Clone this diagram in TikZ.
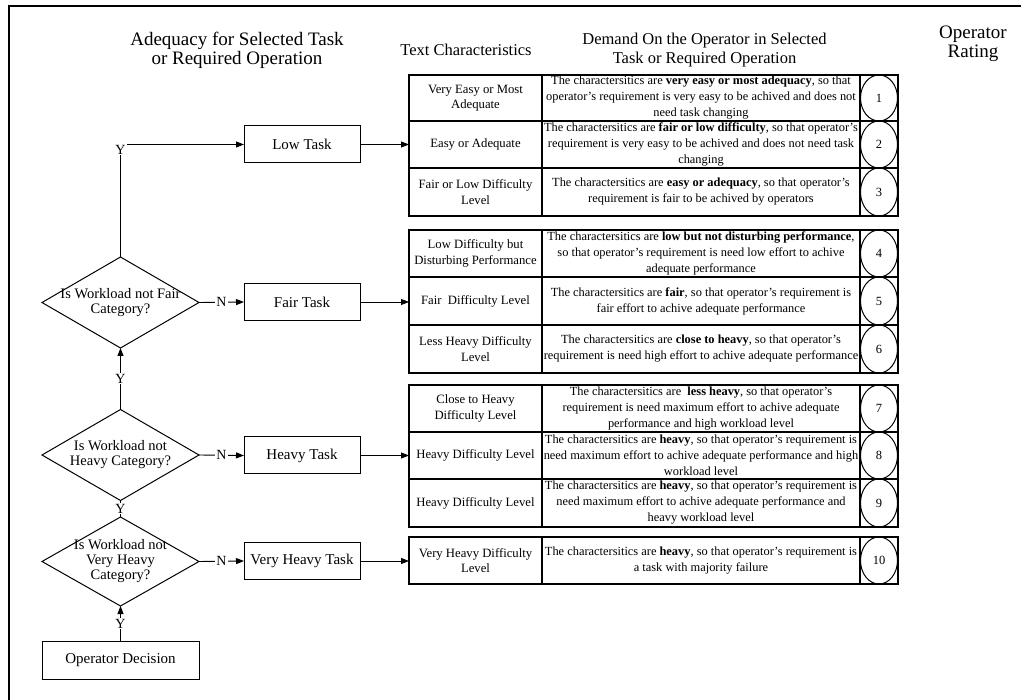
\documentclass[tikz,border=0pt]{standalone}
\usepackage{fontspec}
\setmainfont{Liberation Serif}
\usetikzlibrary{shapes.geometric,arrows.meta}
\begin{document}
\begin{tikzpicture}[x=1pt,y=-1pt,
  every node/.style={inner sep=0pt,outer sep=0pt},
  taskbox/.style={draw,line width=1pt,minimum width=116pt,minimum height=37pt,font=\fontsize{15}{17}\selectfont},
  dia/.style={draw,diamond,line width=1pt,minimum width=157pt,minimum height=91pt},
  diatext/.style={align=center,font=\fontsize{14.5}{15}\selectfont},
  conn/.style={line width=0.9pt,-{Triangle[length=8pt,width=6pt]}},
  plainline/.style={line width=0.9pt},
  lab/.style={fill=white,inner sep=1pt,font=\fontsize{14}{16}\selectfont},
  hdrbig/.style={align=center,font=\fontsize{19}{19.5}\selectfont},
  hdrsmall/.style={align=center,font=\fontsize{16.5}{19}\selectfont},
  ca/.style={draw,line width=1.4pt,align=center,minimum width=133pt,font=\fontsize{12.7}{15.5}\selectfont},
  cb/.style={draw,line width=1.4pt,align=center,minimum width=318pt,font=\fontsize{12.4}{16}\selectfont},
  cc/.style={draw,line width=1.4pt,minimum width=38pt},
  rate/.style={draw,ellipse,line width=1pt,minimum width=37pt,font=\fontsize{12.5}{14}\selectfont}
]
\useasboundingbox (0,0) rectangle (1021,700);
% frame
\draw[line width=2pt] (9,700) -- (9,6) -- (1021,6);

% headers
\node[hdrbig] (h1) at (237,50.5) {Adequacy for Selected Task\\or Required Operation};
\node[hdrsmall] (h2) at (466,50) {Text Characteristics};
\node[hdrsmall] (h3) at (704.5,50.5) {Demand On the Operator in Selected\\Task or Required Operation};
\node[hdrbig] (h4) at (973,44) {Operator\\Rating};

% flowchart
\node[taskbox] (low) at (302,144.5) {Low Task};
\node[taskbox] (fair) at (302,302) {Fair Task};
\node[taskbox] (heavy) at (302,455.5) {Heavy Task};
\node[taskbox] (vheavy) at (302,561) {Very Heavy Task};
\node[taskbox,minimum width=157pt,minimum height=38pt] (opd) at (120.5,660) {Operator Decision};

\node[dia] (d1) at (120.5,302.5) {};
\node[diatext] (d1t) at (d1) {Is Workload not Fair\\Category?};
\node[dia] (d2) at (120.5,455) {};
\node[diatext] (d2t) at (d2) {Is Workload not\\Heavy Category?};
\node[dia,minimum height=89pt] (d3) at (120.5,561.5) {};
\node[diatext] (d3t) at (d3) {Is Workload not\\Very Heavy\\Category?};

\draw[conn] (d1.north) |- node[lab,pos=0.5,yshift=-5pt] {Y} (low.west);
\draw[conn] (d1.east) -- node[lab] {N} (fair.west);
\draw[conn] (d2.north) -- node[lab] {Y} (d1.south);
\draw[conn] (d2.east) -- node[lab] {N} (heavy.west);
\draw[plainline] (d3.north) -- node[lab] {Y} (d2.south);
\draw[conn] (d3.east) -- node[lab] {N} (vheavy.west);
\draw[conn] (opd.north) -- node[lab] {Y} (d3.south);

% table group 1
\node[ca,minimum height=46pt] (r1a) at (475.5,98) {Very Easy or Most\\Adequate};
\node[cb,minimum height=46pt] (r1b) at (701,98) {The charactersitics are \textbf{very easy or most adequacy}, so that\\operator’s requirement is very easy to be achived and does not\\need task changing};
\node[cc,minimum height=46pt] (r1c) at (879,98) {};
\node[rate,minimum height=46pt] (r1e) at (r1c) {1};

\node[ca,minimum height=47pt] (r2a) at (475.5,144.5) {Easy or Adequate};
\node[cb,minimum height=47pt] (r2b) at (701,144.5) {The charactersitics are \textbf{fair or low difficulty}, so that operator’s\\requirement is very easy to be achived and does not need task\\changing};
\node[cc,minimum height=47pt] (r2c) at (879,144.5) {};
\node[rate,minimum height=47pt] (r2e) at (r2c) {2};

\node[ca,minimum height=48pt] (r3a) at (475.5,192) {Fair or Low Difficulty\\Level};
\node[cb,minimum height=48pt] (r3b) at (701,192) {The charactersitics are \textbf{easy or adequacy}, so that operator’s\\requirement is fair to be achived by operators};
\node[cc,minimum height=48pt] (r3c) at (879,192) {};
\node[rate,minimum height=48pt] (r3e) at (r3c) {3};

% group 2
\node[ca,minimum height=47pt] (r4a) at (475.5,253.5) {Low Difficulty but\\Disturbing Performance};
\node[cb,minimum height=47pt] (r4b) at (701,253.5) {The charactersitics are \textbf{low but not disturbing performance},\\so that operator’s requirement is need low effort to achive\\adequate performance};
\node[cc,minimum height=47pt] (r4c) at (879,253.5) {};
\node[rate,minimum height=47pt] (r4e) at (r4c) {4};

\node[ca,minimum height=48pt] (r5a) at (475.5,301) {Fair\ \ Difficulty Level};
\node[cb,minimum height=48pt] (r5b) at (701,301) {The charactersitics are \textbf{fair}, so that operator’s requirement is\\fair effort to achive adequate performance};
\node[cc,minimum height=48pt] (r5c) at (879,301) {};
\node[rate,minimum height=48pt] (r5e) at (r5c) {5};

\node[ca,minimum height=48pt] (r6a) at (475.5,349) {Less Heavy Difficulty\\Level};
\node[cb,minimum height=48pt] (r6b) at (701,349) {The charactersitics are \textbf{close to heavy}, so that operator’s\\requirement is need high effort to achive adequate performance};
\node[cc,minimum height=48pt] (r6c) at (879,349) {};
\node[rate,minimum height=48pt] (r6e) at (r6c) {6};

% group 3
\node[ca,minimum height=47pt] (r7a) at (475.5,408.5) {Close to Heavy\\Difficulty Level};
\node[cb,minimum height=47pt] (r7b) at (701,408.5) {The charactersitics are\ \ \textbf{less heavy}, so that operator’s\\requirement is need maximum effort to achive adequate\\performance and high workload level};
\node[cc,minimum height=47pt] (r7c) at (879,408.5) {};
\node[rate,minimum height=47pt] (r7e) at (r7c) {7};

\node[ca,minimum height=47pt] (r8a) at (475.5,455.5) {Heavy Difficulty Level};
\node[cb,minimum height=47pt] (r8b) at (701,455.5) {The charactersitics are \textbf{heavy}, so that operator’s requirement is\\need maximum effort to achive adequate performance and high\\workload level};
\node[cc,minimum height=47pt] (r8c) at (879,455.5) {};
\node[rate,minimum height=47pt] (r8e) at (r8c) {8};

\node[ca,minimum height=48pt] (r9a) at (475.5,503) {Heavy Difficulty Level};
\node[cb,minimum height=48pt] (r9b) at (701,503) {The charactersitics are \textbf{heavy}, so that operator’s requirement is\\need maximum effort to achive adequate performance and\\heavy workload level};
\node[cc,minimum height=48pt] (r9c) at (879,503) {};
\node[rate,minimum height=48pt] (r9e) at (r9c) {9};

% group 4
\node[ca,minimum height=47pt] (r10a) at (475.5,560.5) {Very Heavy Difficulty\\Level};
\node[cb,minimum height=47pt] (r10b) at (701,560.5) {The charactersitics are \textbf{heavy}, so that operator’s requirement is\\a task with majority failure};
\node[cc,minimum height=47pt] (r10c) at (879,560.5) {};
\node[rate,minimum height=47pt] (r10e) at (r10c) {10};

% task to table arrows
\draw[conn] (low.east) -- (low.east -| r2a.west);
\draw[conn] (fair.east) -- (fair.east -| r5a.west);
\draw[conn] (heavy.east) -- (heavy.east -| r8a.west);
\draw[conn] (vheavy.east) -- (vheavy.east -| r10a.west);
\end{tikzpicture}
\end{document}
